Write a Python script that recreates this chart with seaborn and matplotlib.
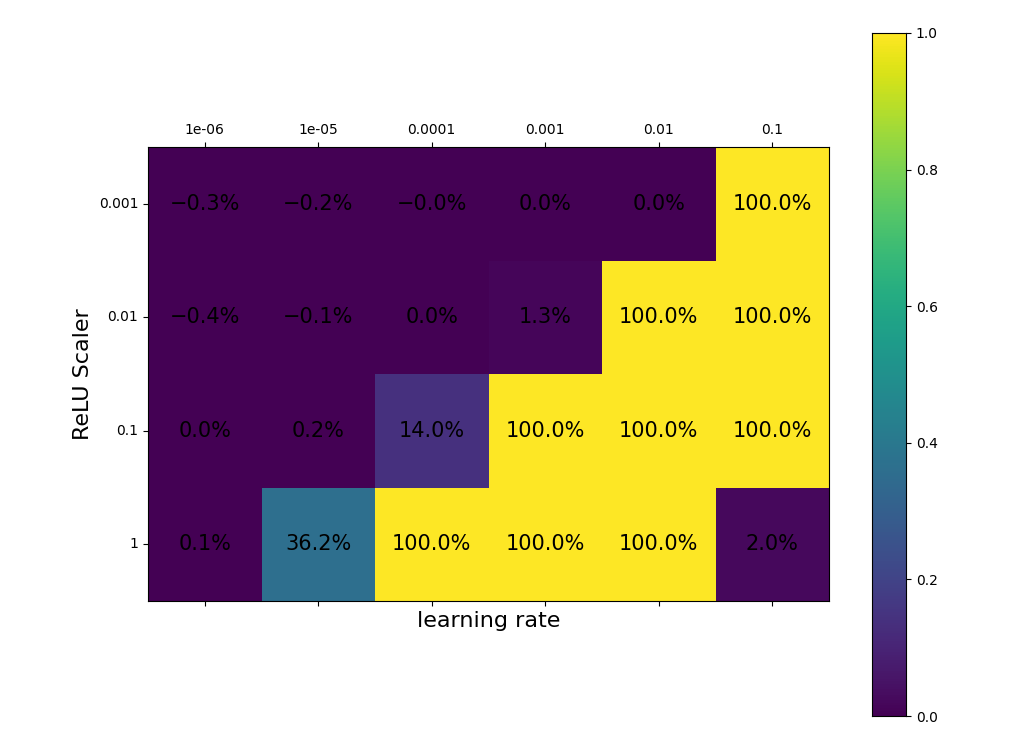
import numpy as np
import matplotlib
matplotlib.use("Agg")
import matplotlib.pyplot as plt
import seaborn as sns

learning_rates = ["1e-06", "1e-05", "0.0001", "0.001", "0.01", "0.1"]
relu_scalers = ["0.001", "0.01", "0.1", "1"]
# values in percent, rows = ReLU scaler, cols = learning rate
pct = np.array([
    [-0.3, -0.2, -0.0, 0.0, 0.0, 100.0],
    [-0.4, -0.1, 0.0, 1.3, 100.0, 100.0],
    [0.0, 0.2, 14.0, 100.0, 100.0, 100.0],
    [0.1, 36.2, 100.0, 100.0, 100.0, 2.0],
])


def fmt(v, raw):
    s = f"{abs(v):.1f}%"
    return ("\u2212" + s) if raw.startswith("-") else s


labels = np.array([[fmt(v, f"{v}") for v in row] for row in pct])

fig = plt.figure(figsize=(10.23, 7.53), dpi=100)
ax = fig.add_axes([148 / 1023, 1 - 601 / 753, 681 / 1023, 454 / 753])
cax = fig.add_axes([872 / 1023, 1 - 716 / 753, 34 / 1023, 683 / 753])

sns.heatmap(pct / 100.0, ax=ax, cbar_ax=cax, cmap="viridis", vmin=0, vmax=1,
            annot=labels, fmt="", annot_kws={"fontsize": 15, "color": "black"},
            xticklabels=learning_rates, yticklabels=relu_scalers)

ax.tick_params(top=True, labeltop=True, bottom=True, labelbottom=False,
               left=True, length=3.5, labelsize=10)
ax.set_yticklabels(relu_scalers, rotation=0)
ax.set_xticklabels(learning_rates, rotation=0)
ax.set_xlabel("learning rate", fontsize=16)
ax.xaxis.set_label_position("bottom")
ax.set_ylabel("ReLU Scaler", fontsize=16)
for s in ax.spines.values():
    s.set_visible(True)
cax.tick_params(labelsize=10)
for s in cax.spines.values():
    s.set_visible(True)

fig.savefig("out.png", dpi=100)
